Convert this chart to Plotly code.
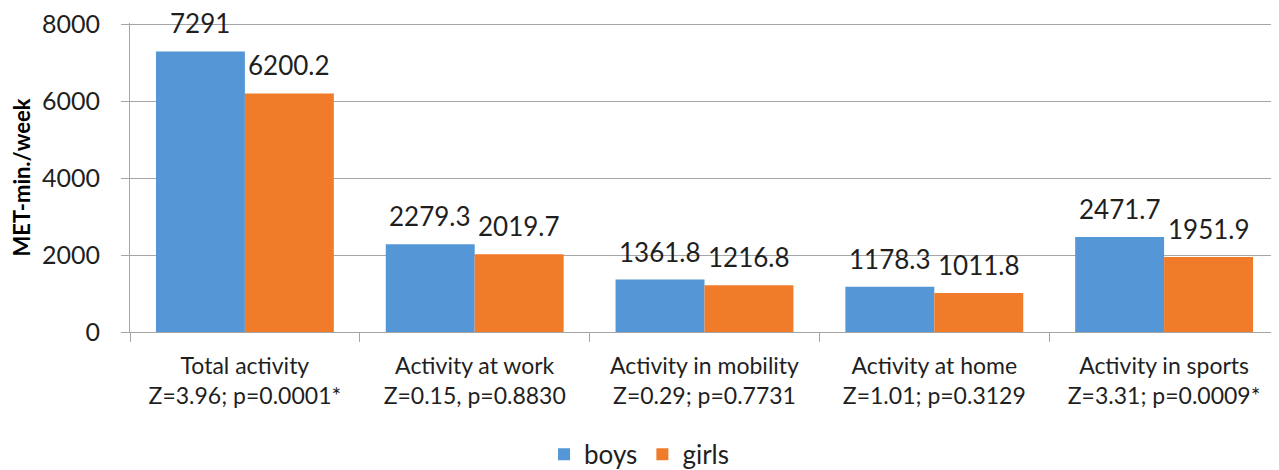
import plotly.graph_objects as go

categories = ["Total activity<br>Z=3.96; p=0.0001*",
              "Activity at work<br>Z=0.15, p=0.8830",
              "Activity in mobility<br>Z=0.29; p=0.7731",
              "Activity at home<br>Z=1.01; p=0.3129",
              "Activity in sports<br>Z=3.31; p=0.0009*"]
boys = [7291, 2279.3, 1361.8, 1178.3, 2471.7]
girls = [6200.2, 2019.7, 1216.8, 1011.8, 1951.9]
boys_labels = ["7291", "2279.3", "1361.8", "1178.3", "2471.7"]
girls_labels = ["6200.2", "2019.7", "1216.8", "1011.8", "1951.9"]
y_ticks = [0, 2000, 4000, 6000, 8000]

FONT = "Lato"
TXT = "#1f1f1f"

fig = go.Figure()
fig.add_trace(go.Bar(name="boys", x=categories, y=boys,
                     marker=dict(color="#5597D6", line=dict(width=0))))
fig.add_trace(go.Bar(name="girls", x=categories, y=girls,
                     marker=dict(color="#F07C2A", line=dict(width=0))))

bar_half = 44.5
for c, v, t in zip(categories, boys, boys_labels):
    fig.add_annotation(x=c, y=v, text=t, showarrow=False, xshift=-bar_half,
                       yshift=28, yanchor="middle", borderpad=0,
                       font=dict(family=FONT, size=26, color=TXT))
for c, v, t in zip(categories, girls, girls_labels):
    fig.add_annotation(x=c, y=v, text=t, showarrow=False, xshift=bar_half,
                       yshift=28, yanchor="middle", borderpad=0,
                       font=dict(family=FONT, size=26, color=TXT))

# page body adds an 8px offset; figure sized to fill the remaining window
fig.update_layout(
    width=1271, height=462,
    margin=dict(l=122, r=0, t=15, b=138, autoexpand=False),
    paper_bgcolor="white", plot_bgcolor="white",
    barmode="group", bargap=0.226, bargroupgap=0,
    font=dict(family=FONT, color=TXT),
    showlegend=True,
    legend=dict(orientation="h", xref="container", x=0.4965, xanchor="center",
                yref="container", y=0.034, yanchor="middle",
                font=dict(family=FONT, size=26, color=TXT),
                itemwidth=30, traceorder="normal"),
    xaxis=dict(type="category", showline=True, linecolor="#A6A6A6", linewidth=1,
               ticks="outside", tickson="boundaries", ticklen=9, tickcolor="#A6A6A6",
               ticklabelstandoff=13,
               tickfont=dict(family=FONT, size=23, color=TXT), showgrid=False),
    yaxis=dict(range=[0, 8030], tickvals=y_ticks, showgrid=True, gridcolor="#A6A6A6",
               gridwidth=1, showline=True, linecolor="#A6A6A6", linewidth=1,
               ticks="outside", ticklen=8, tickcolor="#A6A6A6", zeroline=False,
               ticklabelstandoff=16, ticklabeloverflow="allow",
               tickfont=dict(family=FONT, size=25, color=TXT),
               title=dict(text="<b>MET-min./week</b>", standoff=6,
                          font=dict(family=FONT, size=22, color="#000000"))),
)

fig.write_html("out.html")
